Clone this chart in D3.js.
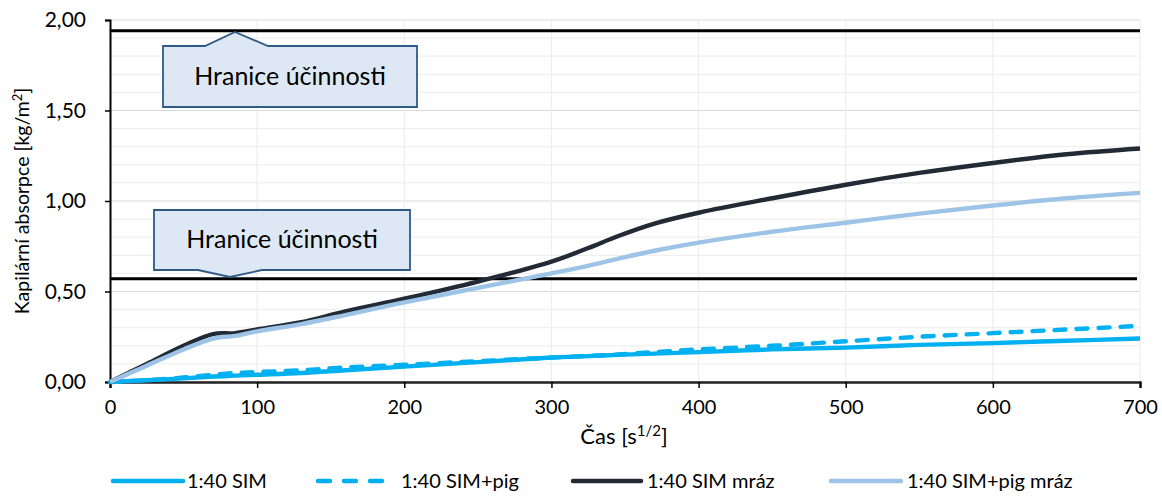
<!DOCTYPE html>
<html><head><meta charset="utf-8">
<script src="https://cdn.jsdelivr.net/npm/d3@7"></script>
<style>
body{margin:0;background:#fff;}
svg{display:block;font-family:Lato, "Open Sans", sans-serif;font-weight:400;}
</style></head>
<body><svg id="chart" width="1162" height="497"></svg>
<script>
// ---- data ----
const time = [0, 25, 50, 70, 85, 100, 130, 160, 200, 250, 300, 325, 345, 370, 400, 450, 500, 550, 600, 650, 700];
const sim = [0, 0.01, 0.02, 0.03, 0.035, 0.04, 0.05, 0.065, 0.085, 0.11, 0.135, 0.143, 0.15, 0.157, 0.165, 0.18, 0.19, 0.205, 0.215, 0.228, 0.24];
const simPig = [0, 0.01, 0.025, 0.04, 0.05, 0.055, 0.065, 0.08, 0.095, 0.115, 0.135, 0.144, 0.152, 0.165, 0.18, 0.20, 0.225, 0.25, 0.27, 0.29, 0.31];
const simMraz = [0, 0.10, 0.20, 0.265, 0.27, 0.29, 0.33, 0.39, 0.46, 0.555, 0.665, 0.74, 0.805, 0.875, 0.935, 1.015, 1.09, 1.155, 1.21, 1.258, 1.29];
const simPigMraz = [0, 0.09, 0.18, 0.24, 0.255, 0.28, 0.32, 0.37, 0.44, 0.52, 0.60, 0.642, 0.68, 0.725, 0.77, 0.83, 0.88, 0.93, 0.975, 1.015, 1.045];
const seriesNames = ["1:40 SIM", "1:40 SIM+pig", "1:40 SIM mráz", "1:40 SIM+pig mráz"];
const xTicks = [0, 100, 200, 300, 400, 500, 600, 700];
const yTicks = [0, 0.5, 1.0, 1.5, 2.0];
const limits = [1.94, 0.57];
const calloutText = "Hranice účinnosti";

// ---- layout ----
const svg = d3.select("#chart");
const x = d3.scaleLinear().domain([0, 700]).range([110, 1140]);
const y = d3.scaleLinear().domain([0, 2]).range([382, 20]);

// gridlines
const minor = d3.range(0, 2.001, 0.1).map(v => +v.toFixed(2));
svg.append("g").selectAll("line").data(minor).join("line")
  .attr("x1", x(0)).attr("x2", x(700))
  .attr("y1", d => y(d)).attr("y2", d => y(d))
  .attr("stroke", d => (Math.abs(d*2 - Math.round(d*2)) < 1e-6) ? "#d9d9d9" : "#efefef")
  .attr("stroke-width", 1.2);
svg.append("g").selectAll("line").data(xTicks.slice(1)).join("line")
  .attr("x1", d => x(d)).attr("x2", d => x(d))
  .attr("y1", y(0)).attr("y2", y(2))
  .attr("stroke", "#eeeeee").attr("stroke-width", 1.2);

// axes
const fmt = d => d3.format(".2f")(d).replace(".", ",");
const yAxis = svg.append("g").attr("transform", `translate(${x(0)},0)`)
  .call(d3.axisLeft(y).tickValues(yTicks).tickFormat(fmt).tickSizeOuter(0).tickSize(5).tickPadding(19));
const xAxis = svg.append("g").attr("transform", `translate(0,${y(0)})`)
  .call(d3.axisBottom(x).tickValues(xTicks).tickSizeOuter(0).tickSize(6).tickPadding(12));
[yAxis, xAxis].forEach(a => {
  a.select(".domain").attr("stroke", "#000").attr("stroke-width", 2);
  a.selectAll(".tick line").attr("stroke", "#000").attr("stroke-width", 1.5);
  a.selectAll(".tick text").attr("font-family", "Lato, sans-serif").attr("font-size", 20).attr("fill", "#000");
});
yAxis.selectAll(".tick text").attr("font-size", 21);
xAxis.select(".domain").attr("stroke", "#222").attr("stroke-width", 2.5);

// axis titles
svg.append("text").attr("transform", `translate(29,${(y(0)+y(2))/2}) rotate(-90)`)
  .attr("text-anchor", "middle").attr("font-size", 19.5).attr("fill", "#000")
  .html('Kapilární absorpce [kg/m<tspan dy="-7" font-size="13">2</tspan><tspan dy="7">]</tspan>');
svg.append("text").attr("x", 624).attr("y", 444)
  .attr("text-anchor", "middle").attr("font-size", 22).attr("fill", "#000")
  .html('Čas [s<tspan dy="-8" font-size="15">1/2</tspan><tspan dy="8">]</tspan>');

// series
const colors = ["#00b0f0", "#00b0f0", "#222a35", "#9dc3e6"];
const dashes = [null, "11,11", null, null];
const allSeries = [sim, simPig, simMraz, simPigMraz];
const line = d3.line().x(d => x(d[0])).y(d => y(d[1])).curve(d3.curveCatmullRom.alpha(0.5));

// limit lines
svg.append("g").selectAll("line").data(limits).join("line")
  .attr("x1", x(0)).attr("x2", (d, i) => i === 0 ? x(700) : x(698))
  .attr("y1", d => y(d)).attr("y2", d => y(d))
  .attr("stroke", "#000").attr("stroke-width", 3);

svg.append("g").selectAll("path").data(allSeries).join("path")
  .attr("d", s => line(time.map((t, i) => [t, s[i]])))
  .attr("fill", "none")
  .attr("stroke", (d, i) => colors[i])
  .attr("stroke-width", 4.4)
  .attr("stroke-linecap", (d, i) => dashes[i] ? "round" : "butt")
  .attr("stroke-dasharray", (d, i) => dashes[i]);

// callouts
function callout(x0, x1, y0, y1, bx0, bx1, tipX, tipY, up) {
  const g = svg.append("g");
  let pts;
  if (up) {
    pts = [[x0, y0], [bx0, y0], [tipX, tipY], [bx1, y0], [x1, y0], [x1, y1], [x0, y1]];
  } else {
    pts = [[x0, y0], [x1, y0], [x1, y1], [bx1, y1], [tipX, tipY], [bx0, y1], [x0, y1]];
  }
  g.append("path").attr("d", "M" + pts.map(p => p.join(",")).join("L") + "Z")
    .attr("fill", "#dde8f4").attr("stroke", "#2f5a86").attr("stroke-width", 1.8).attr("stroke-linejoin", "miter");
  const t = g.append("text").attr("x", (x0 + x1) / 2).attr("y", (y0 + y1) / 2 + 8)
    .attr("text-anchor", "middle").attr("font-size", 22).attr("fill", "#000").text(calloutText);
  const len = t.node().getComputedTextLength();
  t.attr("font-size", Math.min(25, 22 * 213 / len));
}
callout(163, 417, 46, 107, 205, 268, 235, 32, true);
callout(154, 410, 210, 270, 198, 262, 230, 277, false);

// legend
const legendItems = [
  {lx: 113, tx: 187, w: 70},
  {lx: 318, tx: 401, w: 66},
  {lx: 573, tx: 647, w: 68},
  {lx: 831, tx: 907, w: 70}
];
const lg = svg.append("g");
legendItems.forEach((it, i) => {
  lg.append("line").attr("x1", it.lx).attr("x2", it.lx + it.w).attr("y1", 481).attr("y2", 481)
    .attr("stroke", colors[i]).attr("stroke-width", 4.5)
    .attr("stroke-linecap", "round")
    .attr("stroke-dasharray", dashes[i] ? "12,14" : null);
  lg.append("text").attr("x", it.tx).attr("y", 488).attr("font-size", 20).attr("fill", "#000").text(seriesNames[i]);
});
</script>
</body></html>
